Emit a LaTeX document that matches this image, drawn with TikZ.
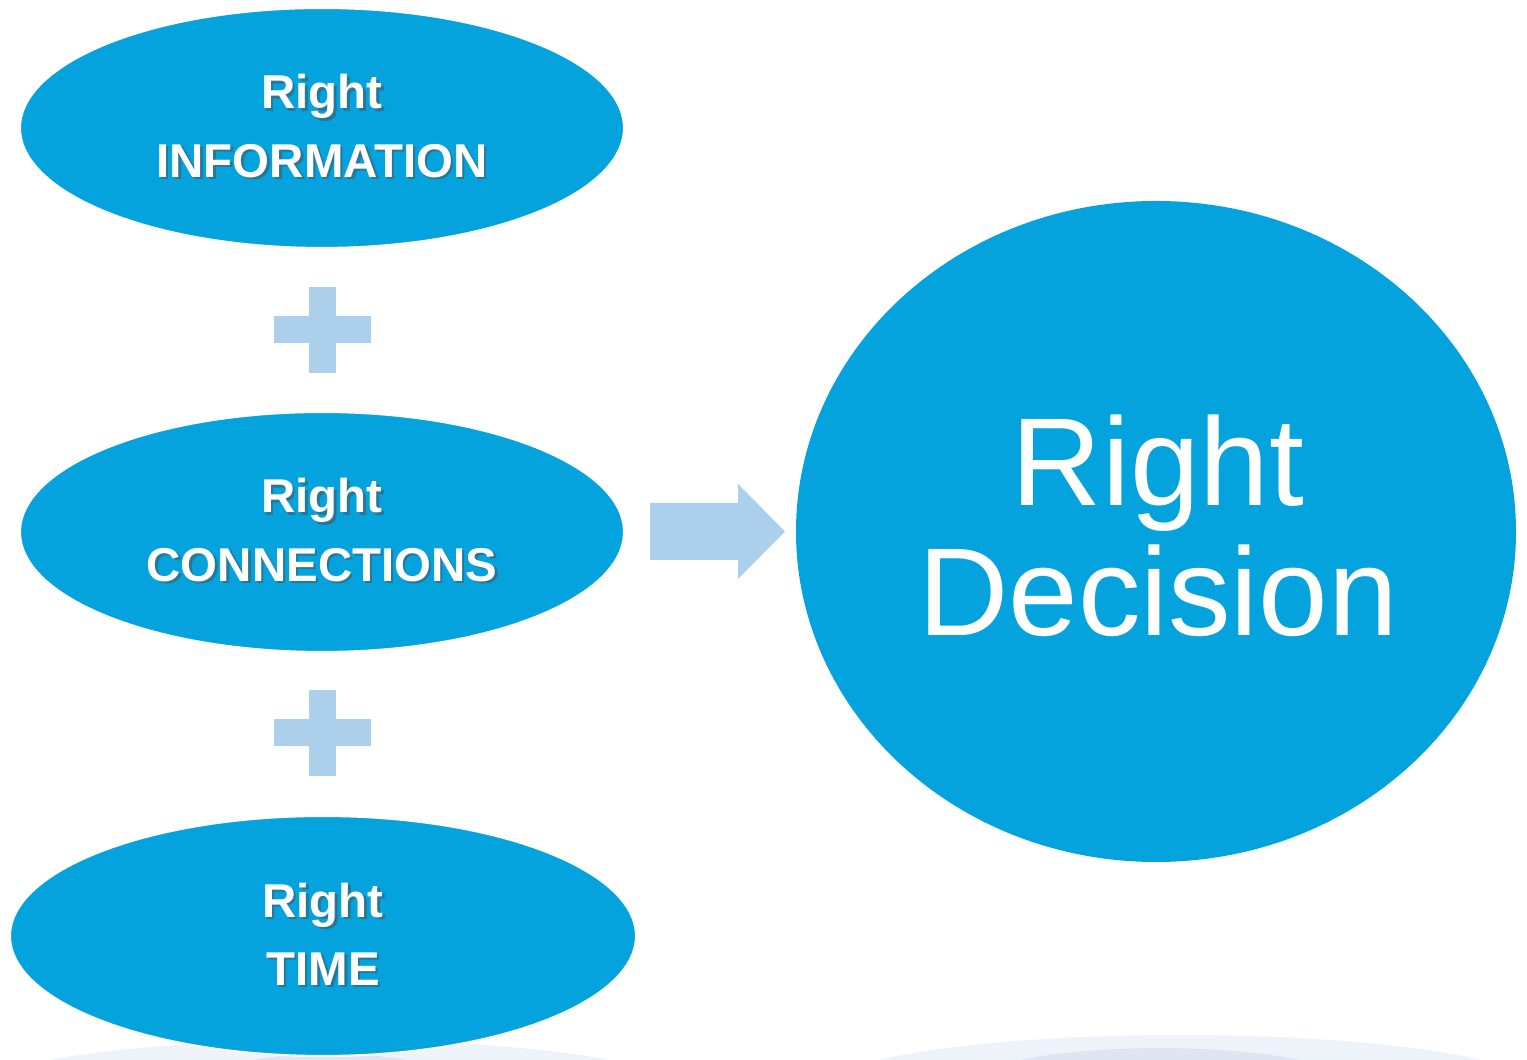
\documentclass[tikz,border=0pt]{standalone}
\usepackage{fontspec}
\setmainfont{Liberation Sans}
\usepackage{tikz}
\usetikzlibrary{shapes.geometric, positioning, calc}

\definecolor{blobblue}{HTML}{04A3DE}
\definecolor{pluscol}{HTML}{ACCFEC}
\definecolor{reflA}{HTML}{EEF2F9}
\definecolor{reflB}{HTML}{DFE5F0}

\begin{document}
\begin{tikzpicture}[
    blob/.style={ellipse, fill=blobblue, draw=white, line width=0.6pt, minimum width=6.04cm, minimum height=2.4cm, inner sep=0pt},
    bigblob/.style={ellipse, fill=blobblue, minimum width=7.2cm, minimum height=6.61cm, inner sep=0pt},
    lbl/.style={text=white, align=center, font=\bfseries\fontsize{13.5}{19.4}\selectfont},
    lblshadow/.style={lbl, text=black!70, opacity=0.5},
    biglbl/.style={text=white, align=center, font=\fontsize{35.6}{37}\selectfont},
    plusbar/.style={fill=pluscol},
    refl/.style={fill=reflA}
]
    \useasboundingbox (0,0) rectangle (15.27,10.60);
    \clip (0,0) rectangle (15.27,10.60);

    % Faint reflections at the bottom
    \fill[refl] (3.3,-0.3) ellipse (3.5 and 0.5);
    \fill[reflB] (3.3,-0.3) ellipse (1.4 and 0.36);
    \fill[refl] (11.8,-0.3) ellipse (3.6 and 0.55);
    \fill[reflB] (11.6,-0.3) ellipse (2.0 and 0.42);

    % Left column of ellipses
    \node[blob] (info) at (3.22,9.32) {};
    \node[blob] (conn) at (3.22,5.28) {};
    \node[blob, minimum width=6.26cm] (time) at (3.23,1.24) {};

    \node[lblshadow] (infoS) at ([shift={(0.025,-0.005)}]info.center) {Right\\INFORMATION};
    \node[lbl] (infoT) at ([yshift=0.02cm]info.center) {Right\\INFORMATION};
    \node[lblshadow] (connS) at ([shift={(0.025,-0.005)}]conn.center) {Right\\CONNECTIONS};
    \node[lbl] (connT) at ([yshift=0.02cm]conn.center) {Right\\CONNECTIONS};
    \node[lblshadow] (timeS) at ([shift={(0.025,-0.005)}]time.center) {Right\\TIME};
    \node[lbl] (timeT) at ([yshift=0.02cm]time.center) {Right\\TIME};

    % Plus signs
    \coordinate (plus1) at (3.225,7.30);
    \coordinate (plus2) at (3.225,3.27);
    \foreach \p in {plus1, plus2} {
        \fill[plusbar] ($(\p)+(-0.135,-0.43)$) rectangle ($(\p)+(0.135,0.43)$);
        \fill[plusbar] ($(\p)+(-0.485,-0.135)$) rectangle ($(\p)+(0.485,0.135)$);
    }

    % Big ellipse
    \node[bigblob] (decide) at (11.56,5.285) {};
    \node[biglbl] (decideT) at (11.58,5.34) {Right\\Decision};

    % Block arrow
    \coordinate (arrtail) at (6.50,5.285);
    \fill[plusbar] (arrtail) ++(0,0.285) -- ++(0.88,0) -- ++(0,0.19) -- (7.85,5.285)
        -- (7.38,4.81) -- ++(0,0.19) -- ++(-0.88,0) -- cycle;

\end{tikzpicture}
\end{document}
